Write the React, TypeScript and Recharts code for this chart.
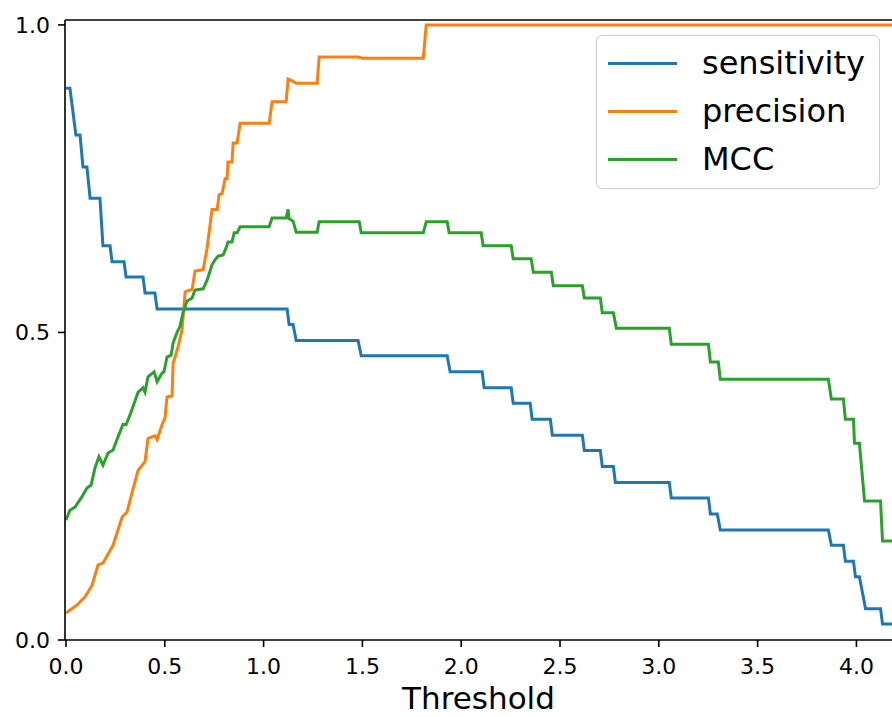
import React from "react";
import { LineChart, Line, XAxis, YAxis, ReferenceLine } from "recharts";

// threshold / value pairs, one pair of arrays per curve
const sensX = [0, 0.02, 0.05, 0.071, 0.086, 0.106, 0.122, 0.172, 0.187, 0.223, 0.233, 0.294, 0.304, 0.39, 0.4, 0.45, 0.461, 1.119, 1.129, 1.149, 1.165, 1.478, 1.494, 1.929, 1.944, 2.106, 2.116, 2.253, 2.263, 2.349, 2.359, 2.451, 2.461, 2.613, 2.623, 2.704, 2.714, 2.77, 2.78, 3.053, 3.063, 3.251, 3.261, 3.296, 3.311, 3.858, 3.873, 3.934, 3.944, 3.985, 3.995, 4.015, 4.046, 4.122, 4.132, 4.18];
const sensY = [0.897, 0.897, 0.821, 0.821, 0.769, 0.769, 0.718, 0.718, 0.641, 0.641, 0.615, 0.615, 0.59, 0.59, 0.564, 0.564, 0.538, 0.538, 0.513, 0.513, 0.487, 0.487, 0.462, 0.462, 0.436, 0.436, 0.41, 0.41, 0.385, 0.385, 0.359, 0.359, 0.333, 0.333, 0.308, 0.308, 0.282, 0.282, 0.256, 0.256, 0.231, 0.231, 0.205, 0.205, 0.179, 0.179, 0.154, 0.154, 0.128, 0.128, 0.103, 0.103, 0.051, 0.051, 0.026, 0.026];

const precX = [0, 0.056, 0.096, 0.132, 0.162, 0.187, 0.238, 0.258, 0.284, 0.309, 0.334, 0.365, 0.4, 0.415, 0.451, 0.461, 0.486, 0.501, 0.511, 0.537, 0.542, 0.567, 0.587, 0.603, 0.638, 0.653, 0.694, 0.714, 0.739, 0.765, 0.775, 0.79, 0.805, 0.815, 0.82, 0.84, 0.846, 0.866, 0.881, 1.028, 1.043, 1.114, 1.124, 1.144, 1.165, 1.271, 1.281, 1.478, 1.499, 1.808, 1.823, 4.18];
const precY = [0.044, 0.057, 0.07, 0.089, 0.122, 0.125, 0.154, 0.174, 0.2, 0.208, 0.239, 0.276, 0.29, 0.328, 0.332, 0.326, 0.35, 0.361, 0.395, 0.397, 0.45, 0.476, 0.504, 0.566, 0.57, 0.6, 0.602, 0.637, 0.7, 0.7, 0.724, 0.726, 0.75, 0.75, 0.777, 0.777, 0.808, 0.808, 0.84, 0.84, 0.875, 0.875, 0.912, 0.909, 0.905, 0.905, 0.948, 0.948, 0.946, 0.946, 1.0, 1.0];

const mccX = [0, 0.02, 0.046, 0.081, 0.106, 0.127, 0.147, 0.167, 0.187, 0.213, 0.238, 0.263, 0.289, 0.304, 0.324, 0.365, 0.39, 0.4, 0.415, 0.446, 0.461, 0.486, 0.496, 0.511, 0.532, 0.542, 0.562, 0.577, 0.592, 0.613, 0.638, 0.653, 0.694, 0.714, 0.739, 0.754, 0.77, 0.795, 0.81, 0.82, 0.84, 0.851, 0.866, 0.881, 1.028, 1.043, 1.114, 1.124, 1.129, 1.149, 1.165, 1.271, 1.281, 1.484, 1.494, 1.808, 1.823, 1.929, 1.939, 2.101, 2.111, 2.253, 2.263, 2.354, 2.365, 2.456, 2.466, 2.613, 2.623, 2.704, 2.714, 2.77, 2.785, 3.053, 3.063, 3.251, 3.261, 3.301, 3.311, 3.858, 3.873, 3.934, 3.944, 3.985, 3.99, 4.015, 4.041, 4.122, 4.132, 4.18];
const mccY = [0.195, 0.211, 0.216, 0.233, 0.247, 0.252, 0.28, 0.298, 0.284, 0.304, 0.309, 0.33, 0.351, 0.35, 0.366, 0.403, 0.41, 0.403, 0.428, 0.436, 0.42, 0.434, 0.436, 0.46, 0.463, 0.483, 0.5, 0.51, 0.532, 0.551, 0.556, 0.569, 0.571, 0.585, 0.61, 0.618, 0.624, 0.626, 0.637, 0.647, 0.647, 0.662, 0.662, 0.672, 0.672, 0.686, 0.686, 0.7, 0.685, 0.681, 0.663, 0.663, 0.68, 0.68, 0.662, 0.662, 0.68, 0.68, 0.662, 0.662, 0.641, 0.641, 0.62, 0.62, 0.598, 0.598, 0.576, 0.576, 0.556, 0.556, 0.532, 0.532, 0.507, 0.507, 0.481, 0.481, 0.452, 0.452, 0.424, 0.424, 0.392, 0.392, 0.359, 0.359, 0.32, 0.32, 0.226, 0.226, 0.161, 0.161];

const xTicks = [0, 0.5, 1, 1.5, 2, 2.5, 3, 3.5, 4];
const yTicks = [0, 0.5, 1];

const series = [
  { name: "sensitivity", color: "#1f77b4", xs: sensX, ys: sensY },
  { name: "precision", color: "#ff7f0e", xs: precX, ys: precY },
  { name: "MCC", color: "#2ca02c", xs: mccX, ys: mccY },
];

const toPoints = (xs: number[], ys: number[]) => xs.map((x, i) => ({ x, y: ys[i] }));

const font = "DejaVu Sans, sans-serif";
const tickStyle = { fill: "#000", fontSize: 22, fontFamily: font };

export default function App() {
  return (
    <div style={{ position: "absolute", left: 0, top: 0, width: 892, height: 717, background: "#fff", overflow: "hidden" }}>
      <LineChart width={892} height={717} margin={{ top: 20, right: 0, left: 0, bottom: 0 }}>
        <XAxis
          type="number"
          dataKey="x"
          domain={[-0.005, 4.18]}
          ticks={xTicks}
          interval={0}
          allowDataOverflow
          tickFormatter={(v: number) => v.toFixed(1)}
          height={77}
          tickSize={7}
          tickMargin={11}
          tick={tickStyle}
          axisLine={{ stroke: "#000", strokeWidth: 1.6 }}
          tickLine={{ stroke: "#000", strokeWidth: 1.6 }}
          label={(props: any) => {
            const vb = props.viewBox;
            return (
              <text x={vb.x + vb.width / 2} y={vb.y + 69} textAnchor="middle" fontSize={31} fontFamily={font} fill="#000">
                Threshold
              </text>
            );
          }}
        />
        <YAxis
          type="number"
          domain={[0, 1.008]}
          ticks={yTicks}
          interval={0}
          allowDataOverflow
          tickFormatter={(v: number) => v.toFixed(1)}
          width={65}
          tickSize={7}
          tickMargin={8}
          tick={tickStyle}
          axisLine={{ stroke: "#000", strokeWidth: 1.6 }}
          tickLine={{ stroke: "#000", strokeWidth: 1.6 }}
        />
        <ReferenceLine y={1.008} stroke="#000" strokeWidth={1.6} />
        {series.map((s) => (
          <Line
            key={s.name}
            data={toPoints(s.xs, s.ys)}
            dataKey="y"
            name={s.name}
            type="linear"
            stroke={s.color}
            strokeWidth={3}
            dot={false}
            isAnimationActive={false}
          />
        ))}
      </LineChart>
      {/* legend box, drawn like matplotlib's upper right legend */}
      <div
        style={{
          position: "absolute",
          left: 596,
          top: 35,
          width: 282,
          height: 152,
          border: "1.5px solid #cccccc",
          borderRadius: 6,
          background: "rgba(255,255,255,0.8)",
          fontFamily: font,
          fontSize: 32,
          color: "#000",
        }}
      >
        {series.map((s, i) => (
          <div key={s.name} style={{ position: "absolute", left: 0, top: 3 + i * 48, height: 48, display: "flex", alignItems: "center" }}>
            <div style={{ marginLeft: 11, width: 69, height: 3, background: s.color }} />
            <span style={{ marginLeft: 25, lineHeight: "48px", whiteSpace: "nowrap" }}>{s.name}</span>
          </div>
        ))}
      </div>
    </div>
  );
}
